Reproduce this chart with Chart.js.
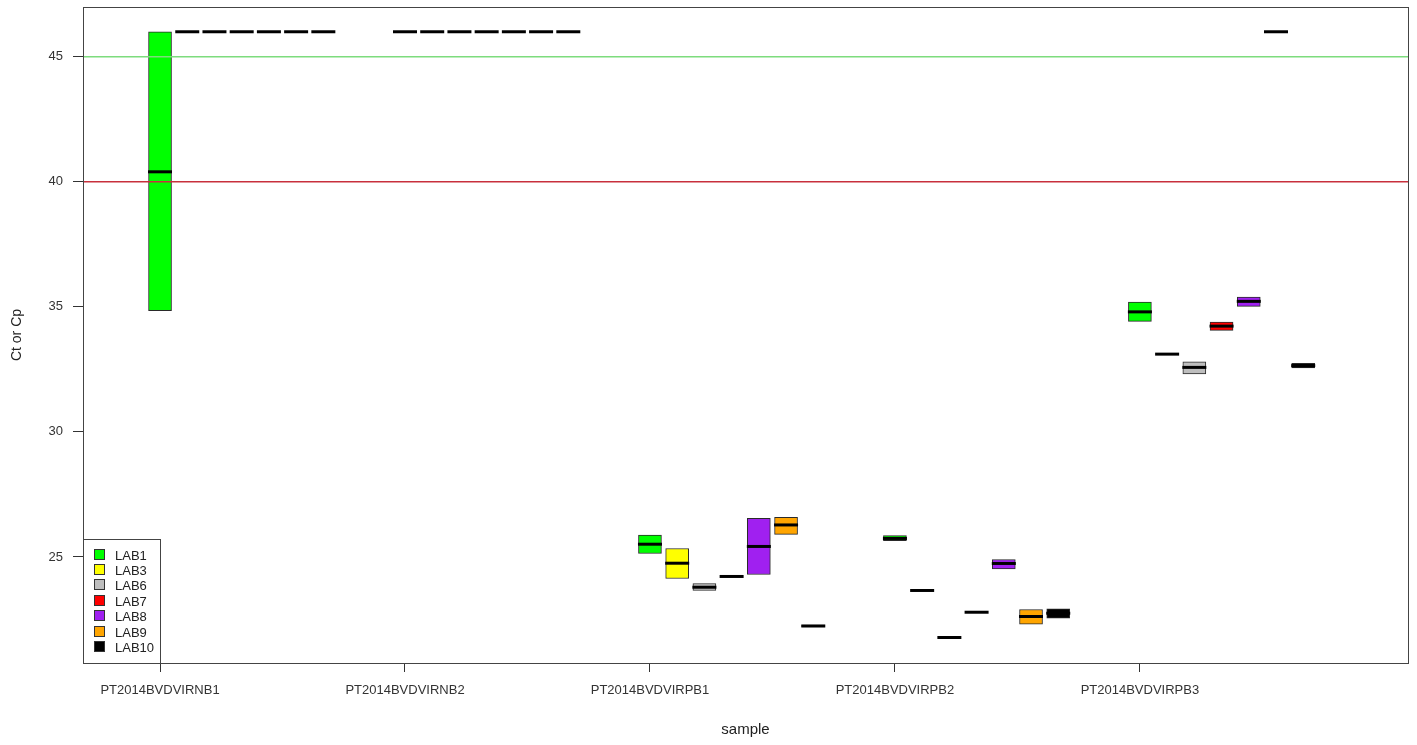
<!DOCTYPE html>
<html>
<head>
<meta charset="utf-8">
<title>Ct or Cp by sample</title>
<script src="https://cdn.jsdelivr.net/npm/chart.js"></script>
<style>
  html, body { margin:0; padding:0; background:#fff; }
  #wrap { width:1417px; height:745px; }
</style>
</head>
<body>
<div id="wrap"><canvas id="chart"></canvas></div>
<script>
// ---- data ----
const samples = ['PT2014BVDVIRNB1', 'PT2014BVDVIRNB2', 'PT2014BVDVIRPB1', 'PT2014BVDVIRPB2', 'PT2014BVDVIRPB3'];
const labs = ['LAB1', 'LAB3', 'LAB6', 'LAB7', 'LAB8', 'LAB9', 'LAB10'];
const labColors = ['#00ff00', '#ffff00', '#bebebe', '#ff0000', '#a020f0', '#ffa500', '#000000'];

// one row per lab, one column per sample
const boxLow = [
  [34.85, 46, 25.14, 25.65, 34.42],
  [46, 46, 24.14, 23.66, 33.11],
  [46, 46, 23.66, 21.78, 32.32],
  [46, 46, 24.22, 22.79, 34.06],
  [46, 46, 24.30, 24.52, 35.02],
  [46, 46, 25.90, 22.31, 46],
  [46, 46, 22.20, 22.55, 32.56]
];
const boxMid = [
  [40.40, 46, 25.51, 25.74, 34.80],
  [46, 46, 24.75, 23.66, 33.11],
  [46, 46, 23.79, 21.78, 32.58],
  [46, 46, 24.22, 22.79, 34.23],
  [46, 46, 25.42, 24.74, 35.22],
  [46, 46, 26.28, 22.62, 46],
  [46, 46, 22.24, 22.75, 32.65]
];
const boxHigh = [
  [46, 46, 25.87, 25.85, 35.19],
  [46, 46, 25.34, 23.66, 33.11],
  [46, 46, 23.94, 21.78, 32.80],
  [46, 46, 24.22, 22.79, 34.39],
  [46, 46, 26.54, 24.90, 35.39],
  [46, 46, 26.58, 22.90, 46],
  [46, 46, 22.28, 22.93, 32.74]
];

const yTicks = [25, 30, 35, 40, 45];
const thresholds = [45, 40];
const thresholdColors = ['#7ddc7d', '#c8303c'];

// ---- layout helpers ----
const slotsPerSample = 9;
const xMin = -2.83, xMax = 45.85;
const yMin = 20.76, yMax = 46.99;
const pos = (s, l) => s * slotsPerSample + l;
const FONT = '"Liberation Sans", Arial, sans-serif';

const datasets = [];

labs.forEach((lab, l) => {
  datasets.push({
    type: 'bar',
    label: lab,
    data: samples.map((s, i) => ({ x: pos(i, l), y: [boxLow[l][i], boxHigh[l][i]] })),
    backgroundColor: labColors[l],
    borderColor: '#2a2a2a',
    borderWidth: 1,
    borderSkipped: false,
    barThickness: 23,
    grouped: false,
    order: 3
  });
});

// medians
datasets.push({
  type: 'scatter',
  label: 'median',
  data: labs.flatMap((lab, l) => samples.map((s, i) => ({ x: pos(i, l), y: boxMid[l][i] }))),
  pointStyle: 'line',
  pointRadius: 12,
  pointBorderWidth: 3,
  borderColor: '#000',
  backgroundColor: '#000',
  order: 0
});

// threshold lines
thresholds.forEach((t, k) => {
  datasets.push({
    type: 'line',
    label: 'limit ' + t,
    data: [{ x: xMin, y: t }, { x: xMax, y: t }],
    borderColor: thresholdColors[k],
    borderWidth: 1.6,
    pointRadius: 0,
    order: 1
  });
});

// legend drawn inside the plot, bottom left, like the R legend()
const boxLegend = {
  id: 'boxLegend',
  afterDraw(chart) {
    const { ctx, chartArea: a } = chart;
    const w = 77, h = 124, rowH = 15.45;
    const top = a.bottom - h;
    ctx.save();
    ctx.fillStyle = '#fff';
    ctx.fillRect(a.left, top, w, h);
    ctx.strokeStyle = '#444';
    ctx.lineWidth = 1;
    ctx.strokeRect(a.left + 0.5, top + 0.5, w, h);
    ctx.font = '13px ' + FONT;
    ctx.textBaseline = 'middle';
    labs.forEach((lab, i) => {
      const y = Math.round(top + 15.5 + i * rowH);
      ctx.fillStyle = labColors[i];
      ctx.fillRect(a.left + 12, y - 5, 10, 10);
      ctx.strokeStyle = '#333';
      ctx.strokeRect(a.left + 11.5, y - 5.5, 10, 10);
      ctx.fillStyle = '#222';
      ctx.fillText(lab, a.left + 32, y + 1);
    });
    ctx.restore();
  }
};

// box around the plot region
const frame = {
  id: 'frame',
  afterDraw(chart) {
    const { ctx, chartArea: a } = chart;
    ctx.save();
    ctx.strokeStyle = '#444';
    ctx.lineWidth = 1;
    ctx.strokeRect(a.left + 0.5, a.top + 0.5, a.right - a.left, a.bottom - a.top);
    ctx.restore();
  }
};

// drop the label overhang padding so the plot region sits where R put it
const noOverhang = (scale) => {
  scale.paddingTop = 0; scale.paddingBottom = 0;
  scale.paddingLeft = 0; scale.paddingRight = 0;
};

new Chart(document.getElementById('chart'), {
  type: 'bar',
  data: { datasets },
  plugins: [frame, boxLegend],
  options: {
    responsive: true,
    maintainAspectRatio: false,
    animation: false,
    events: [],
    layout: { autoPadding: false, padding: { top: 7, right: 9, left: 0, bottom: 0 } },
    plugins: { legend: { display: false }, tooltip: { enabled: false } },
    scales: {
      x: {
        type: 'linear',
        min: xMin,
        max: xMax,
        offset: false,
        afterBuildTicks: (scale) => { scale.ticks = samples.map((s, i) => ({ value: pos(i, 0) })); },
        afterFit: (scale) => { scale.height = 82; noOverhang(scale); },
        ticks: {
          callback: (v) => samples[Math.round(v / slotsPerSample)],
          font: { family: FONT, size: 13 },
          color: '#333',
          padding: 11,
          maxRotation: 0,
          autoSkip: false
        },
        grid: { offset: false, drawOnChartArea: false, drawTicks: true, tickLength: 9, color: '#333' },
        border: { display: false },
        title: {
          display: true,
          text: 'sample',
          font: { family: FONT, size: 15 },
          color: '#222',
          padding: { top: 0, bottom: 6 }
        }
      },
      y: {
        type: 'linear',
        min: yMin,
        max: yMax,
        afterBuildTicks: (scale) => { scale.ticks = yTicks.map(v => ({ value: v })); },
        afterFit: (scale) => { scale.width = 83; noOverhang(scale); },
        ticks: {
          font: { family: FONT, size: 13 },
          color: '#333',
          padding: 10
        },
        grid: { drawOnChartArea: false, drawTicks: true, tickLength: 10, color: '#333' },
        border: { display: false },
        title: {
          display: true,
          text: 'Ct or Cp',
          font: { family: FONT, size: 14 },
          color: '#222',
          padding: { top: 9, bottom: 0 }
        }
      }
    }
  }
});
</script>
</body>
</html>
